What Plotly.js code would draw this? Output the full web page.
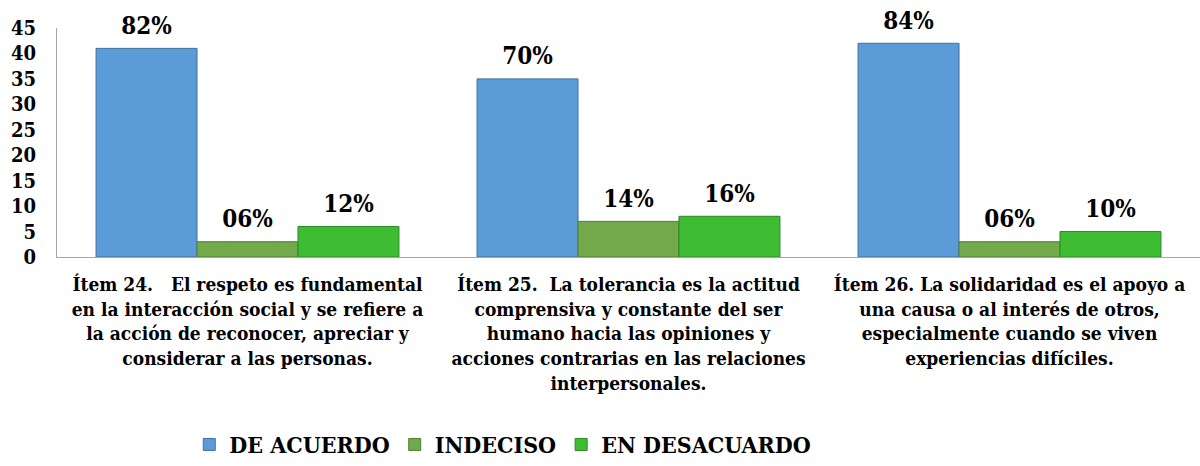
<!DOCTYPE html>
<html>
<head>
<meta charset="utf-8">
<script src="https://cdn.plot.ly/plotly-3.0.1.min.js"></script>
<style>html,body{margin:0;padding:0;background:#fff;}#chart{width:1200px;height:466px;}</style>
</head>
<body>
<div id="chart"></div>
<script>
var categories = [
  "Ítem 24.\u00A0\u00A0 El respeto es fundamental<br>en la interacción social y se refiere a<br>la acción de reconocer, apreciar y<br>considerar a las personas.",
  "Ítem 25.\u00A0 La tolerancia es la actitud<br>comprensiva y constante del ser<br>humano hacia las opiniones y<br>acciones contrarias en las relaciones<br>interpersonales.",
  "Ítem 26. La solidaridad es el apoyo a<br>una causa o al interés de otros,<br>especialmente cuando se viven<br>experiencias difíciles."
];
var seriesNames = ["DE ACUERDO", "INDECISO", "EN DESACUARDO"];
var deAcuerdo = [41, 35, 42];
var indeciso = [3, 7, 3];
var enDesacuerdo = [6, 8, 5];
var labelsDeAcuerdo = ["82%", "70%", "84%"];
var labelsIndeciso = ["06%", "14%", "06%"];
var labelsEnDesacuerdo = ["12%", "16%", "10%"];
var yTicks = [0, 5, 10, 15, 20, 25, 30, 35, 40, 45];

var colors = ["#5b9bd8", "#72a94a", "#3ebd33"];
var lineColors = ["#41719c", "#507e34", "#2b8a22"];
var FONT = "DejaVu Serif Condensed, DejaVu Serif, serif";

var values = [deAcuerdo, indeciso, enDesacuerdo];
var labels = [labelsDeAcuerdo, labelsIndeciso, labelsEnDesacuerdo];
var data = [];
for (var i = 0; i < 3; i++) {
  data.push({
    type: "bar", x: categories, y: values[i], name: seriesNames[i],
    offsetgroup: "g" + i, alignmentgroup: "a",
    marker: {color: colors[i], line: {color: lineColors[i], width: 1}},
    hoverinfo: "skip"
  });
}
for (var j = 0; j < 3; j++) {
  data.push({
    type: "scatter", mode: "markers+text", x: categories, y: values[j],
    offsetgroup: "g" + j, alignmentgroup: "a",
    text: labels[j], textposition: "top center",
    marker: {size: 12, color: "rgba(0,0,0,0)"},
    textfont: {family: FONT, size: 24, color: "#000", weight: 700},
    showlegend: false, hoverinfo: "skip", cliponaxis: false
  });
}

var layout = {
  width: 1200, height: 466,
  margin: {l: 57, r: 0, t: 28, b: 203},
  paper_bgcolor: "#fff", plot_bgcolor: "#fff",
  barmode: "group", scattermode: "group",
  bargap: 0.205, bargroupgap: 0.0, scattergap: 0.205,
  font: {family: FONT, color: "#000", weight: 700},
  xaxis: {
    showgrid: false, zeroline: false, showline: true, linecolor: "#a6a6a6", linewidth: 1,
    ticks: "", tickfont: {family: FONT, size: 19, color: "#000", weight: 700},
    ticklabelstandoff: 10, fixedrange: true, automargin: false
  },
  yaxis: {
    range: [0, 45], tickvals: yTicks, showgrid: false, zeroline: false,
    showline: true, linecolor: "#a6a6a6", linewidth: 1, ticks: "",
    tickfont: {family: FONT, size: 20, color: "#000", weight: 700},
    ticklabelstandoff: 16, fixedrange: true, automargin: false
  },
  legend: {
    orientation: "h", x: 0.39, xanchor: "center", y: -0.82, yanchor: "middle",
    font: {family: FONT, size: 23, color: "#000", weight: 700},
    itemwidth: 30, tracegroupgap: 0
  },
  showlegend: true
};

Plotly.newPlot("chart", data, layout, {displayModeBar: false, staticPlot: true});
</script>
</body>
</html>
